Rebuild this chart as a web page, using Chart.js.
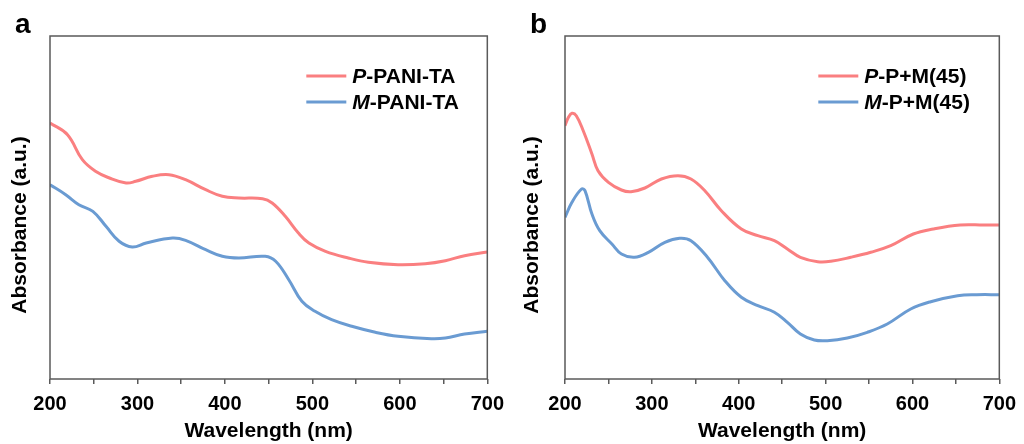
<!DOCTYPE html>
<html>
<head>
<meta charset="utf-8">
<script src="https://cdn.jsdelivr.net/npm/chart.js@4/dist/chart.umd.min.js"></script>
<style>
  body { margin: 0; background: #fff; }
  .wrap { position: absolute; top: 0; width: 512px; height: 444px; }
  #w1 { left: 0; }
  #w2 { left: 512px; }
</style>
</head>
<body>
<div class="wrap" id="w1"><canvas id="chartA" width="512" height="444"></canvas></div>
<div class="wrap" id="w2"><canvas id="chartB" width="512" height="444"></canvas></div>
<script>
'use strict';

// panel a
const aWaveP = [200, 220, 237, 252, 268, 287, 298, 317, 336, 355, 378, 397, 416, 443, 454, 469, 484, 496, 515, 541, 564, 598, 629, 652, 674, 700];
const aAbsP  = [256, 244.3, 219.3, 207.7, 201, 196, 197.7, 202.7, 204.3, 199.3, 189.3, 182.7, 181, 180.3, 176, 162.7, 146, 136, 127.7, 121, 116.7, 114.3, 115.3, 118.3, 123.3, 127];
const aWaveM = [200, 218, 233, 249, 264, 279, 294, 310, 340, 355, 378, 397, 416, 446, 458, 473, 488, 503, 522, 545, 572, 598, 636, 652, 674, 700];
const aAbsM  = [194.3, 184.3, 174.3, 167.7, 152.7, 137.7, 132, 136, 141, 138.7, 129.3, 122.7, 121, 122.7, 117.7, 99.3, 77.7, 67.7, 59.3, 52.7, 46.7, 42.7, 40.3, 41, 45, 47.7];

// panel b
const bWaveP = [200, 204, 208, 213, 221, 231, 238, 250, 265, 276, 292, 311, 330, 345, 361, 380, 403, 422, 441, 456, 471, 491, 506, 529, 552, 575, 601, 624, 655, 682, 700];
const bAbsP  = [253.3, 261.7, 265.7, 263.3, 248.3, 225, 208.3, 196.7, 189, 187.3, 191, 200, 203.3, 200, 188.3, 168.3, 150, 143.3, 138.3, 130, 121.7, 117.3, 117.7, 121.7, 126.7, 133.3, 145, 150, 154, 154, 154];
const bWaveM = [200, 208, 219, 223, 231, 240, 254, 265, 280, 296, 315, 332, 345, 364, 384, 403, 422, 441, 456, 471, 487, 502, 525, 548, 571, 598, 621, 652, 674, 700];
const bAbsM  = [161.7, 176.7, 190, 188.3, 165, 148.3, 135, 125, 121.7, 126.7, 136.7, 140.7, 138.3, 121.7, 98.3, 81.7, 73.3, 66.7, 56.7, 45, 39, 38.3, 41, 46.7, 55, 70, 77.3, 83.3, 84.3, 84.3];

const xTicks = [200, 300, 400, 500, 600, 700];
const aLegend = [['P', '-PANI-TA'], ['M', '-PANI-TA']];
const bLegend = [['P', '-P+M(45)'], ['M', '-P+M(45)']];

const RED = '#fa7f80';
const BLUE = '#6a9bd2';
const FRAME = '#5a5a5a';
const FONT = '"Liberation Sans", Arial, sans-serif';

function pts(xs, ys) {
    return xs.map(function(x, i){ return {x: x, y: ys[i]}; });
}

function framePlugin(letter, legend) {
    return {
        id: 'frame' + letter,
        afterDraw: function(chart) {
            const ctx = chart.ctx;
            const a = chart.chartArea;
            ctx.save();
            ctx.strokeStyle = FRAME;
            ctx.lineWidth = 1.5;
            ctx.strokeRect(a.left, a.top, a.right - a.left, a.bottom - a.top);

            // panel letter
            ctx.fillStyle = '#000';
            ctx.font = 'bold 28px ' + FONT;
            ctx.textBaseline = 'alphabetic';
            ctx.textAlign = 'left';
            ctx.fillText(letter, a.left - 35, 33);

            // y title
            ctx.save();
            ctx.translate(20, 225);
            ctx.rotate(-Math.PI / 2);
            ctx.textAlign = 'center';
            ctx.textBaseline = 'middle';
            ctx.font = 'bold 21px ' + FONT;
            ctx.fillText('Absorbance (a.u.)', 0, 0);
            ctx.restore();

            // legend
            const colors = [RED, BLUE];
            for (let i = 0; i < legend.length; i++) {
                const y = 76 + i * 26;
                const x0 = a.right - 181;
                ctx.strokeStyle = colors[i];
                ctx.lineWidth = 3;
                ctx.beginPath();
                ctx.moveTo(x0, y);
                ctx.lineTo(x0 + 40, y);
                ctx.stroke();
                ctx.fillStyle = '#000';
                ctx.textBaseline = 'middle';
                ctx.font = 'italic bold 21px ' + FONT;
                ctx.fillText(legend[i][0], x0 + 46, y + 1);
                const w = ctx.measureText(legend[i][0]).width;
                ctx.font = 'bold 21px ' + FONT;
                ctx.fillText(legend[i][1], x0 + 46 + w, y + 1);
            }
            ctx.restore();
        }
    };
}

function makeChart(id, letter, left, wp, ap, wm, am, legend) {
    return new Chart(document.getElementById(id), {
        type: 'line',
        data: {
            datasets: [{
                label: legend[0].join(''),
                data: pts(wp, ap),
                borderColor: RED,
                borderWidth: 3,
                pointRadius: 0,
                tension: 0.4,
            }, {
                label: legend[1].join(''),
                data: pts(wm, am),
                borderColor: BLUE,
                borderWidth: 3,
                pointRadius: 0,
                tension: 0.4,
            }],
        },
        options: {
            responsive: false,
            animation: false,
            layout: { padding: { top: 36, right: 23, left: 0, bottom: 0 } },
            plugins: { legend: { display: false }, tooltip: { enabled: false } },
            scales: {
                x: {
                    type: 'linear',
                    min: 200,
                    max: 700,
                    afterBuildTicks: function(scale) {
                        const t = [];
                        for (let v = 200; v <= 700; v += 50) t.push({value: v});
                        scale.ticks = t;
                    },
                    afterFit: function(scale) { scale.height = 444 - 379; },
                    grid: { display: true, drawOnChartArea: false, tickLength: 5, color: FRAME, lineWidth: 1.5 },
                    border: { display: false },
                    ticks: {
                        autoSkip: false,
                        maxRotation: 0,
                        padding: 8,
                        color: '#000',
                        font: { family: FONT, size: 20, weight: 'bold' },
                        callback: function(v) { return xTicks.indexOf(v) >= 0 ? String(v) : ''; },
                    },
                    title: {
                        display: true,
                        text: 'Wavelength (nm)',
                        color: '#000',
                        padding: { top: 2, bottom: 0 },
                        font: { family: FONT, size: 21, weight: 'bold' },
                    },
                },
                y: {
                    min: 0,
                    max: 343,
                    afterFit: function(scale) { scale.width = left; },
                    grid: { display: false },
                    border: { display: false },
                    ticks: { display: false },
                },
            },
        },
        plugins: [framePlugin(letter, legend)],
    });
}

makeChart('chartA', 'a', 50, aWaveP, aAbsP, aWaveM, aAbsM, aLegend);
makeChart('chartB', 'b', 53, bWaveP, bAbsP, bWaveM, bAbsM, bLegend);
</script>
</body>
</html>
